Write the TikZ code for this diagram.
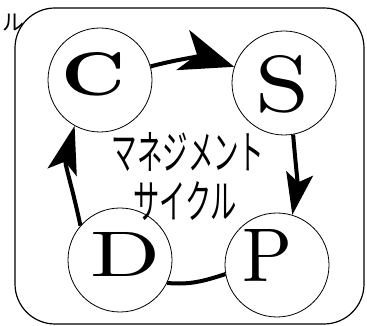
\documentclass[tikz,border=0pt]{standalone}
\usepackage{graphicx}
\usepackage{fontspec}
\newfontfamily\jpfont{Noto Sans CJK JP}
\usetikzlibrary{arrows.meta}

\begin{document}
\begin{tikzpicture}[x=1pt,y=1pt,
  stage/.style={circle, draw, line width=0.8pt, fill=white, minimum size=104pt, inner sep=0pt},
  letter/.style={inner sep=0pt},
  cyc/.style={line width=4pt}]
\useasboundingbox (0,0) rectangle (367,326);
\draw[line width=1.2pt, rounded corners=40pt] (15,2) rectangle (364,318);
\node[anchor=east, inner sep=0pt] (lbl) at (25,303) {\fontsize{22}{22}\selectfont\jpfont ル};
% the four stages
\node[stage] (C) at (100,246) {};
\node[stage] (S) at (284,243) {};
\node[stage] (D) at (120,66) {};
\node[stage] (P) at (277,61) {};
\node[letter] (Ct) at ([shift={(-6,6)}]C) {\resizebox{64pt}{43pt}{\bfseries C}};
\node[letter] (St) at ([shift={(-1,-1)}]S) {\resizebox{54pt}{56pt}{S}};
\node[letter] (Dt) at ([shift={(6,6)}]D) {\resizebox{70pt}{44pt}{D}};
\node[letter] (Pt) at ([shift={(-9,10)}]P) {\resizebox{50pt}{52pt}{P}};
\node (t1) at (188,174) {\resizebox{153pt}{37pt}{\jpfont マネジメント}};
\node (t2) at (185,125) {\resizebox{104pt}{37pt}{\jpfont サイクル}};
% the cycle
\draw[cyc, -{Stealth[length=54pt, width=42pt, inset=15pt]}] (C) to[out=15, in=162] (S);
\draw[cyc, -{Stealth[length=42pt, width=27pt, inset=9pt]}] (S.-80) to[out=-85, in=80] (P.73);
\draw[cyc] (P.190) to[out=198, in=-5] (D.-26);
\draw[cyc, -{Stealth[length=48pt, width=30pt, inset=11pt]}] (D.139) to[out=102, in=255] (C.241);
\end{tikzpicture}
\end{document}
